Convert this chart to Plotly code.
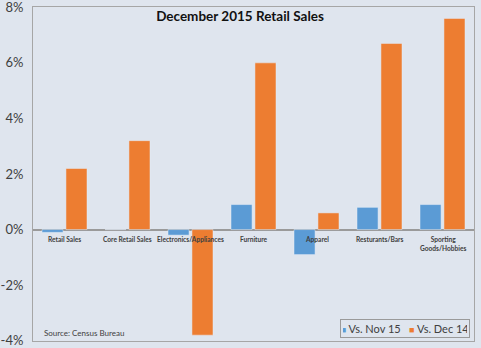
import plotly.graph_objects as go

categories = ["Retail Sales", "Core Retail Sales", "Electronics/Appliances", "Furniture",
              "Apparel", "Resturants/Bars", "Sporting<br>Goods/Hobbies"]
series_names = ["Vs. Nov 15", "Vs. Dec 14"]
vs_nov15 = [-0.1, 0.0, -0.2, 0.9, -0.9, 0.8, 0.9]
vs_dec14 = [2.2, 3.2, -3.8, 6.0, 0.6, 6.7, 7.6]
y_ticks = [-4, -2, 0, 2, 4, 6, 8]
y_tick_labels = ["-4%", "-2%", "0%", "2%", "4%", "6%", "8%"]

colors = ["#5b9bd5", "#ed7d31"]
bg = "#dfe5ee"
font_fam = "Lato, Open Sans, sans-serif"

fig = go.Figure()
fig.add_trace(go.Bar(x=categories, y=vs_nov15, name=series_names[0], marker_color=colors[0]))
fig.add_trace(go.Bar(x=categories, y=vs_dec14, name=series_names[1], marker_color=colors[1]))

for c in categories:
    fig.add_annotation(x=c, y=0, xref="x", yref="y", yanchor="top", yshift=-3,
                       text="<b>%s</b>" % c, showarrow=False,
                       font=dict(family=font_fam, size=6.6, color="#404040"))

fig.add_annotation(x=0.02, y=0.024, xref="paper", yref="paper", xanchor="left", yanchor="middle",
                   text="Source: Census Bureau", showarrow=False,
                   font=dict(family=font_fam, size=8, color="#404040"))

legend_text = "&nbsp;&nbsp;&nbsp;".join(
    "<span style='color:%s;font-size:9px'>■</span>&nbsp;%s" % (col, nm)
    for col, nm in zip(colors, series_names))
fig.add_annotation(x=0.8435, y=0.0374, xref="paper", yref="paper", xanchor="center", yanchor="middle",
                   text=legend_text, showarrow=False, bordercolor="#9a9a9a", borderwidth=1,
                   borderpad=2, width=124,
                   font=dict(family=font_fam, size=11, color="#404040"))

fig.update_layout(
    width=481, height=348,
    margin=dict(l=33, r=7, t=7, b=7, autoexpand=False),
    paper_bgcolor=bg, plot_bgcolor=bg,
    barmode="group", bargap=0.24, bargroupgap=0.12,
    showlegend=False,
    title=dict(text="<b>December 2015 Retail Sales</b>", x=0.499, xanchor="center",
               y=1 - 16 / 348, yanchor="middle",
               font=dict(family=font_fam, size=13.5, color="#111111")),
    xaxis=dict(showticklabels=False, showgrid=False, zeroline=False, showline=True,
               mirror=True, linecolor="#a6a6a6", linewidth=1, ticks=""),
    yaxis=dict(range=[-4.01, 8.01], tickvals=y_ticks, ticktext=y_tick_labels, showgrid=False,
               zeroline=True, zerolinecolor="#9a9a9a", zerolinewidth=1.5,
               showline=True, mirror=True, linecolor="#a6a6a6", linewidth=1, ticks="",
               ticklabelstandoff=6, ticklabeloverflow="allow",
               tickfont=dict(family=font_fam, size=13, color="#404040")),
)

fig.write_html("out.html")
